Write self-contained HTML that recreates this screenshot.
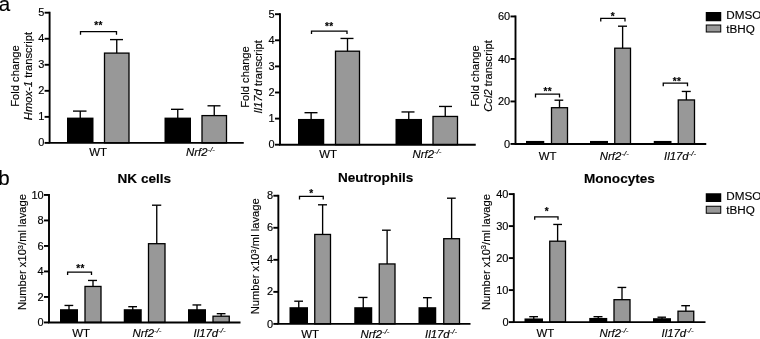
<!DOCTYPE html><html><head><meta charset="utf-8"><style>html,body{margin:0;padding:0;background:#fff}svg{display:block;will-change:transform}text{font-family:"Liberation Sans",sans-serif;fill:#000;stroke:#000;stroke-width:0.15px}</style></head><body>
<svg width="760" height="339" viewBox="0 0 760 339">
<rect width="760" height="339" fill="#fff"/>
<text x="-1.20" y="11.00" font-size="20.5" text-anchor="start" >a</text>
<text x="-1.70" y="185.00" font-size="20.5" text-anchor="start" >b</text>
<line transform="translate(0.0,0.2)" x1="80.25" y1="110.90" x2="80.25" y2="118.40" stroke="#000" stroke-width="1.35"/>
<line transform="translate(0.0,0.2)" x1="73.00" y1="110.90" x2="86.50" y2="110.90" stroke="#000" stroke-width="1.35"/>
<rect transform="translate(0.0,0.2)" x="67.00" y="117.40" width="26.50" height="25.30" fill="#000"/>
<line transform="translate(0.0,0.2)" x1="116.75" y1="39.40" x2="116.75" y2="53.40" stroke="#000" stroke-width="1.35"/>
<line transform="translate(0.0,0.2)" x1="110.00" y1="39.40" x2="123.00" y2="39.40" stroke="#000" stroke-width="1.35"/>
<rect transform="translate(0.0,0.2)" x="104.50" y="52.90" width="24.50" height="89.80" fill="#989898" stroke="#000" stroke-width="1.3"/>
<line transform="translate(0.0,0.2)" x1="177.75" y1="109.10" x2="177.75" y2="118.40" stroke="#000" stroke-width="1.35"/>
<line transform="translate(0.0,0.2)" x1="171.00" y1="109.10" x2="183.50" y2="109.10" stroke="#000" stroke-width="1.35"/>
<rect transform="translate(0.0,0.2)" x="164.50" y="117.40" width="26.50" height="25.30" fill="#000"/>
<line transform="translate(0.0,0.2)" x1="214.25" y1="105.60" x2="214.25" y2="115.90" stroke="#000" stroke-width="1.35"/>
<line transform="translate(0.0,0.2)" x1="207.50" y1="105.60" x2="220.50" y2="105.60" stroke="#000" stroke-width="1.35"/>
<rect transform="translate(0.0,0.2)" x="202.00" y="115.40" width="24.50" height="27.30" fill="#989898" stroke="#000" stroke-width="1.3"/>
<line transform="translate(0.0,0.2)" x1="49.60" y1="11.55" x2="49.60" y2="142.70" stroke="#000" stroke-width="1.9"/>
<line transform="translate(0.0,0.2)" x1="48.65" y1="142.70" x2="243.75" y2="142.70" stroke="#000" stroke-width="1.9"/>
<line transform="translate(0.0,0.2)" x1="44.60" y1="142.70" x2="49.60" y2="142.70" stroke="#000" stroke-width="1.9"/>
<text x="44.30" y="146.00" font-size="11" text-anchor="end" >0</text>
<line transform="translate(0.0,0.2)" x1="44.60" y1="116.66" x2="49.60" y2="116.66" stroke="#000" stroke-width="1.9"/>
<text x="44.30" y="120.00" font-size="11" text-anchor="end" >1</text>
<line transform="translate(0.0,0.2)" x1="44.60" y1="90.62" x2="49.60" y2="90.62" stroke="#000" stroke-width="1.9"/>
<text x="44.30" y="94.00" font-size="11" text-anchor="end" >2</text>
<line transform="translate(0.0,0.2)" x1="44.60" y1="64.58" x2="49.60" y2="64.58" stroke="#000" stroke-width="1.9"/>
<text x="44.30" y="68.00" font-size="11" text-anchor="end" >3</text>
<line transform="translate(0.0,0.2)" x1="44.60" y1="38.54" x2="49.60" y2="38.54" stroke="#000" stroke-width="1.9"/>
<text x="44.30" y="42.00" font-size="11" text-anchor="end" >4</text>
<line transform="translate(0.0,0.2)" x1="44.60" y1="12.50" x2="49.60" y2="12.50" stroke="#000" stroke-width="1.9"/>
<text x="44.30" y="16.00" font-size="11" text-anchor="end" >5</text>
<polyline transform="translate(0.0,0.2)" points="80.50,34.60 80.50,31.50 116.50,31.50 116.50,34.60" fill="none" stroke="#000" stroke-width="1.3"/>
<text x="98.50" y="28.50" font-size="10" text-anchor="middle" letter-spacing="0.4" font-weight="bold">**</text>
<text x="98.00" y="156.00" font-size="11.4" text-anchor="middle" >WT</text>
<text x="200.50" y="156.00" font-size="11.4" text-anchor="middle" ><tspan font-style="italic">Nrf2</tspan><tspan font-style="italic" font-size="7.8" dy="-3.6">-/-</tspan></text>
<text transform="translate(18.50,76.00) rotate(-90)" font-size="11.2" text-anchor="middle">Fold change</text>
<text transform="translate(31.50,76.00) rotate(-90)" font-size="11.2" text-anchor="middle"><tspan font-style="italic">Hmox-1</tspan> transcript</text>
<line transform="translate(0.0,0.2)" x1="311.12" y1="112.50" x2="311.12" y2="119.75" stroke="#000" stroke-width="1.35"/>
<line transform="translate(0.0,0.2)" x1="304.50" y1="112.50" x2="317.50" y2="112.50" stroke="#000" stroke-width="1.35"/>
<rect transform="translate(0.0,0.2)" x="298.00" y="118.75" width="26.25" height="25.75" fill="#000"/>
<line transform="translate(0.0,0.2)" x1="347.50" y1="38.25" x2="347.50" y2="51.50" stroke="#000" stroke-width="1.35"/>
<line transform="translate(0.0,0.2)" x1="340.50" y1="38.25" x2="353.50" y2="38.25" stroke="#000" stroke-width="1.35"/>
<rect transform="translate(0.0,0.2)" x="335.50" y="51.00" width="24.00" height="93.50" fill="#989898" stroke="#000" stroke-width="1.3"/>
<line transform="translate(0.0,0.2)" x1="408.75" y1="111.75" x2="408.75" y2="119.75" stroke="#000" stroke-width="1.35"/>
<line transform="translate(0.0,0.2)" x1="401.50" y1="111.75" x2="414.50" y2="111.75" stroke="#000" stroke-width="1.35"/>
<rect transform="translate(0.0,0.2)" x="395.50" y="118.75" width="26.50" height="25.75" fill="#000"/>
<line transform="translate(0.0,0.2)" x1="445.25" y1="106.25" x2="445.25" y2="116.75" stroke="#000" stroke-width="1.35"/>
<line transform="translate(0.0,0.2)" x1="439.00" y1="106.25" x2="452.00" y2="106.25" stroke="#000" stroke-width="1.35"/>
<rect transform="translate(0.0,0.2)" x="433.00" y="116.25" width="24.50" height="28.25" fill="#989898" stroke="#000" stroke-width="1.3"/>
<line transform="translate(0.0,0.2)" x1="280.00" y1="13.05" x2="280.00" y2="144.50" stroke="#000" stroke-width="1.9"/>
<line transform="translate(0.0,0.2)" x1="279.05" y1="144.50" x2="475.75" y2="144.50" stroke="#000" stroke-width="1.9"/>
<line transform="translate(0.0,0.2)" x1="275.00" y1="144.50" x2="280.00" y2="144.50" stroke="#000" stroke-width="1.9"/>
<text x="274.70" y="148.00" font-size="11" text-anchor="end" >0</text>
<line transform="translate(0.0,0.2)" x1="275.00" y1="118.40" x2="280.00" y2="118.40" stroke="#000" stroke-width="1.9"/>
<text x="274.70" y="122.00" font-size="11" text-anchor="end" >1</text>
<line transform="translate(0.0,0.2)" x1="275.00" y1="92.30" x2="280.00" y2="92.30" stroke="#000" stroke-width="1.9"/>
<text x="274.70" y="96.00" font-size="11" text-anchor="end" >2</text>
<line transform="translate(0.0,0.2)" x1="275.00" y1="66.20" x2="280.00" y2="66.20" stroke="#000" stroke-width="1.9"/>
<text x="274.70" y="70.00" font-size="11" text-anchor="end" >3</text>
<line transform="translate(0.0,0.2)" x1="275.00" y1="40.10" x2="280.00" y2="40.10" stroke="#000" stroke-width="1.9"/>
<text x="274.70" y="44.00" font-size="11" text-anchor="end" >4</text>
<line transform="translate(0.0,0.2)" x1="275.00" y1="14.00" x2="280.00" y2="14.00" stroke="#000" stroke-width="1.9"/>
<text x="274.70" y="18.00" font-size="11" text-anchor="end" >5</text>
<polyline transform="translate(0.0,0.2)" points="311.50,33.75 311.50,31.00 347.00,31.00 347.00,33.75" fill="none" stroke="#000" stroke-width="1.3"/>
<text x="329.25" y="29.50" font-size="10" text-anchor="middle" letter-spacing="0.4" font-weight="bold">**</text>
<text x="328.00" y="158.00" font-size="11.4" text-anchor="middle" >WT</text>
<text x="427.00" y="158.00" font-size="11.4" text-anchor="middle" ><tspan font-style="italic">Nrf2</tspan><tspan font-style="italic" font-size="7.8" dy="-3.6">-/-</tspan></text>
<text transform="translate(248.50,77.00) rotate(-90)" font-size="11.2" text-anchor="middle">Fold change</text>
<text transform="translate(262.00,76.80) rotate(-90)" font-size="11.2" text-anchor="middle"><tspan font-style="italic">Il17d</tspan> transcript</text>
<rect transform="translate(0.0,0.2)" x="526.00" y="140.75" width="18.25" height="3.00" fill="#000"/>
<line transform="translate(0.0,0.2)" x1="559.50" y1="100.00" x2="559.50" y2="108.00" stroke="#000" stroke-width="1.35"/>
<line transform="translate(0.0,0.2)" x1="554.50" y1="100.00" x2="563.25" y2="100.00" stroke="#000" stroke-width="1.35"/>
<rect transform="translate(0.0,0.2)" x="551.50" y="107.50" width="16.00" height="36.25" fill="#989898" stroke="#000" stroke-width="1.3"/>
<rect transform="translate(0.0,0.2)" x="590.00" y="140.75" width="18.00" height="3.00" fill="#000"/>
<line transform="translate(0.0,0.2)" x1="622.62" y1="26.00" x2="622.62" y2="48.50" stroke="#000" stroke-width="1.35"/>
<line transform="translate(0.0,0.2)" x1="618.00" y1="26.00" x2="627.00" y2="26.00" stroke="#000" stroke-width="1.35"/>
<rect transform="translate(0.0,0.2)" x="614.75" y="48.00" width="15.75" height="95.75" fill="#989898" stroke="#000" stroke-width="1.3"/>
<rect transform="translate(0.0,0.2)" x="653.75" y="140.75" width="17.75" height="3.00" fill="#000"/>
<line transform="translate(0.0,0.2)" x1="686.38" y1="91.25" x2="686.38" y2="100.25" stroke="#000" stroke-width="1.35"/>
<line transform="translate(0.0,0.2)" x1="681.75" y1="91.25" x2="690.75" y2="91.25" stroke="#000" stroke-width="1.35"/>
<rect transform="translate(0.0,0.2)" x="678.25" y="99.75" width="16.25" height="44.00" fill="#989898" stroke="#000" stroke-width="1.3"/>
<line transform="translate(0.0,0.2)" x1="515.50" y1="15.30" x2="515.50" y2="143.75" stroke="#000" stroke-width="1.9"/>
<line transform="translate(0.0,0.2)" x1="514.55" y1="143.75" x2="706.25" y2="143.75" stroke="#000" stroke-width="1.9"/>
<line transform="translate(0.0,0.2)" x1="510.50" y1="143.75" x2="515.50" y2="143.75" stroke="#000" stroke-width="1.9"/>
<text x="510.20" y="148.00" font-size="11" text-anchor="end" >0</text>
<line transform="translate(0.0,0.2)" x1="510.50" y1="101.25" x2="515.50" y2="101.25" stroke="#000" stroke-width="1.9"/>
<text x="510.20" y="105.00" font-size="11" text-anchor="end" >20</text>
<line transform="translate(0.0,0.2)" x1="510.50" y1="58.75" x2="515.50" y2="58.75" stroke="#000" stroke-width="1.9"/>
<text x="510.20" y="63.00" font-size="11" text-anchor="end" >40</text>
<line transform="translate(0.0,0.2)" x1="510.50" y1="16.25" x2="515.50" y2="16.25" stroke="#000" stroke-width="1.9"/>
<text x="510.20" y="20.00" font-size="11" text-anchor="end" >60</text>
<polyline transform="translate(0.0,0.2)" points="535.50,97.20 535.50,94.00 559.50,94.00 559.50,97.20" fill="none" stroke="#000" stroke-width="1.3"/>
<text x="547.75" y="94.50" font-size="10" text-anchor="middle" letter-spacing="0.4" font-weight="bold">**</text>
<polyline transform="translate(0.0,0.2)" points="600.75,21.25 600.75,18.25 625.00,18.25 625.00,21.25" fill="none" stroke="#000" stroke-width="1.3"/>
<text x="612.88" y="20.00" font-size="10" text-anchor="middle" letter-spacing="0.4" font-weight="bold">*</text>
<polyline transform="translate(0.0,0.2)" points="663.25,86.00 663.25,83.00 687.50,83.00 687.50,86.00" fill="none" stroke="#000" stroke-width="1.3"/>
<text x="677.00" y="85.00" font-size="10" text-anchor="middle" letter-spacing="0.4" font-weight="bold">**</text>
<text x="547.50" y="160.00" font-size="11.4" text-anchor="middle" >WT</text>
<text x="614.30" y="160.00" font-size="11.4" text-anchor="middle" ><tspan font-style="italic">Nrf2</tspan><tspan font-style="italic" font-size="7.8" dy="-3.6">-/-</tspan></text>
<text x="680.00" y="160.00" font-size="11.4" text-anchor="middle" ><tspan font-style="italic">Il17d</tspan><tspan font-style="italic" font-size="7.8" dy="-3.6">-/-</tspan></text>
<text transform="translate(478.50,76.00) rotate(-90)" font-size="11.2" text-anchor="middle">Fold change</text>
<text transform="translate(491.50,76.00) rotate(-90)" font-size="11.2" text-anchor="middle"><tspan font-style="italic">Ccl2</tspan> transcript</text>
<line transform="translate(0.0,0.2)" x1="69.00" y1="305.25" x2="69.00" y2="310.00" stroke="#000" stroke-width="1.35"/>
<line transform="translate(0.0,0.2)" x1="64.50" y1="305.25" x2="73.25" y2="305.25" stroke="#000" stroke-width="1.35"/>
<rect transform="translate(0.0,0.2)" x="60.00" y="309.00" width="18.00" height="13.25" fill="#000"/>
<line transform="translate(0.0,0.2)" x1="93.00" y1="280.25" x2="93.00" y2="286.75" stroke="#000" stroke-width="1.35"/>
<line transform="translate(0.0,0.2)" x1="88.00" y1="280.25" x2="97.00" y2="280.25" stroke="#000" stroke-width="1.35"/>
<rect transform="translate(0.0,0.2)" x="85.00" y="286.25" width="16.00" height="36.00" fill="#989898" stroke="#000" stroke-width="1.3"/>
<line transform="translate(0.0,0.2)" x1="132.75" y1="306.50" x2="132.75" y2="310.00" stroke="#000" stroke-width="1.35"/>
<line transform="translate(0.0,0.2)" x1="128.25" y1="306.50" x2="137.00" y2="306.50" stroke="#000" stroke-width="1.35"/>
<rect transform="translate(0.0,0.2)" x="123.75" y="309.00" width="18.00" height="13.25" fill="#000"/>
<line transform="translate(0.0,0.2)" x1="156.75" y1="205.00" x2="156.75" y2="244.00" stroke="#000" stroke-width="1.35"/>
<line transform="translate(0.0,0.2)" x1="152.00" y1="205.00" x2="161.25" y2="205.00" stroke="#000" stroke-width="1.35"/>
<rect transform="translate(0.0,0.2)" x="148.50" y="243.50" width="16.50" height="78.75" fill="#989898" stroke="#000" stroke-width="1.3"/>
<line transform="translate(0.0,0.2)" x1="197.00" y1="304.75" x2="197.00" y2="310.00" stroke="#000" stroke-width="1.35"/>
<line transform="translate(0.0,0.2)" x1="192.50" y1="304.75" x2="201.25" y2="304.75" stroke="#000" stroke-width="1.35"/>
<rect transform="translate(0.0,0.2)" x="188.00" y="309.00" width="18.00" height="13.25" fill="#000"/>
<line transform="translate(0.0,0.2)" x1="221.12" y1="313.50" x2="221.12" y2="316.50" stroke="#000" stroke-width="1.35"/>
<line transform="translate(0.0,0.2)" x1="216.75" y1="313.50" x2="225.50" y2="313.50" stroke="#000" stroke-width="1.35"/>
<rect transform="translate(0.0,0.2)" x="213.00" y="316.00" width="16.25" height="6.25" fill="#989898" stroke="#000" stroke-width="1.3"/>
<line transform="translate(0.0,0.2)" x1="49.00" y1="193.80" x2="49.00" y2="322.25" stroke="#000" stroke-width="1.9"/>
<line transform="translate(0.0,0.2)" x1="48.05" y1="322.25" x2="240.50" y2="322.25" stroke="#000" stroke-width="1.9"/>
<line transform="translate(0.0,0.2)" x1="44.00" y1="322.25" x2="49.00" y2="322.25" stroke="#000" stroke-width="1.9"/>
<text x="43.70" y="326.00" font-size="11" text-anchor="end" >0</text>
<line transform="translate(0.0,0.2)" x1="44.00" y1="296.75" x2="49.00" y2="296.75" stroke="#000" stroke-width="1.9"/>
<text x="43.70" y="301.00" font-size="11" text-anchor="end" >2</text>
<line transform="translate(0.0,0.2)" x1="44.00" y1="271.25" x2="49.00" y2="271.25" stroke="#000" stroke-width="1.9"/>
<text x="43.70" y="275.00" font-size="11" text-anchor="end" >4</text>
<line transform="translate(0.0,0.2)" x1="44.00" y1="245.75" x2="49.00" y2="245.75" stroke="#000" stroke-width="1.9"/>
<text x="43.70" y="250.00" font-size="11" text-anchor="end" >6</text>
<line transform="translate(0.0,0.2)" x1="44.00" y1="220.25" x2="49.00" y2="220.25" stroke="#000" stroke-width="1.9"/>
<text x="43.70" y="224.00" font-size="11" text-anchor="end" >8</text>
<line transform="translate(0.0,0.2)" x1="44.00" y1="194.75" x2="49.00" y2="194.75" stroke="#000" stroke-width="1.9"/>
<text x="43.70" y="199.00" font-size="11" text-anchor="end" >10</text>
<polyline transform="translate(0.0,0.2)" points="67.60,274.75 67.60,272.00 91.50,272.00 91.50,274.75" fill="none" stroke="#000" stroke-width="1.3"/>
<text x="80.50" y="272.00" font-size="10" text-anchor="middle" letter-spacing="0.4" font-weight="bold">**</text>
<text x="81.00" y="336.50" font-size="11.4" text-anchor="middle" >WT</text>
<text x="147.00" y="336.50" font-size="11.4" text-anchor="middle" ><tspan font-style="italic">Nrf2</tspan><tspan font-style="italic" font-size="7.8" dy="-3.6">-/-</tspan></text>
<text x="209.50" y="336.50" font-size="11.4" text-anchor="middle" ><tspan font-style="italic">Il17d</tspan><tspan font-style="italic" font-size="7.8" dy="-3.6">-/-</tspan></text>
<text transform="translate(26.00,252.00) rotate(-90)" font-size="11.2" text-anchor="middle">Number x10<tspan font-size="7.5" dy="-3.5">3</tspan><tspan dy="3.5">/ml lavage</tspan></text>
<text x="144.30" y="183.00" font-size="13.55" text-anchor="middle" font-weight="bold">NK cells</text>
<line transform="translate(0.0,0.2)" x1="298.75" y1="301.00" x2="298.75" y2="308.00" stroke="#000" stroke-width="1.35"/>
<line transform="translate(0.0,0.2)" x1="294.25" y1="301.00" x2="303.00" y2="301.00" stroke="#000" stroke-width="1.35"/>
<rect transform="translate(0.0,0.2)" x="289.50" y="307.00" width="18.50" height="16.70" fill="#000"/>
<line transform="translate(0.0,0.2)" x1="322.62" y1="204.60" x2="322.62" y2="234.75" stroke="#000" stroke-width="1.35"/>
<line transform="translate(0.0,0.2)" x1="318.00" y1="204.60" x2="327.00" y2="204.60" stroke="#000" stroke-width="1.35"/>
<rect transform="translate(0.0,0.2)" x="314.75" y="234.25" width="15.75" height="89.45" fill="#989898" stroke="#000" stroke-width="1.3"/>
<line transform="translate(0.0,0.2)" x1="363.25" y1="297.25" x2="363.25" y2="308.00" stroke="#000" stroke-width="1.35"/>
<line transform="translate(0.0,0.2)" x1="358.25" y1="297.25" x2="367.50" y2="297.25" stroke="#000" stroke-width="1.35"/>
<rect transform="translate(0.0,0.2)" x="354.25" y="307.00" width="18.00" height="16.70" fill="#000"/>
<line transform="translate(0.0,0.2)" x1="387.12" y1="230.00" x2="387.12" y2="264.25" stroke="#000" stroke-width="1.35"/>
<line transform="translate(0.0,0.2)" x1="382.00" y1="230.00" x2="390.75" y2="230.00" stroke="#000" stroke-width="1.35"/>
<rect transform="translate(0.0,0.2)" x="379.25" y="263.75" width="15.75" height="59.95" fill="#989898" stroke="#000" stroke-width="1.3"/>
<line transform="translate(0.0,0.2)" x1="427.38" y1="297.50" x2="427.38" y2="308.00" stroke="#000" stroke-width="1.35"/>
<line transform="translate(0.0,0.2)" x1="423.00" y1="297.50" x2="431.75" y2="297.50" stroke="#000" stroke-width="1.35"/>
<rect transform="translate(0.0,0.2)" x="418.50" y="307.00" width="17.75" height="16.70" fill="#000"/>
<line transform="translate(0.0,0.2)" x1="451.62" y1="198.00" x2="451.62" y2="239.00" stroke="#000" stroke-width="1.35"/>
<line transform="translate(0.0,0.2)" x1="447.00" y1="198.00" x2="455.75" y2="198.00" stroke="#000" stroke-width="1.35"/>
<rect transform="translate(0.0,0.2)" x="443.75" y="238.50" width="15.75" height="85.20" fill="#989898" stroke="#000" stroke-width="1.3"/>
<line transform="translate(0.0,0.2)" x1="278.35" y1="194.59" x2="278.35" y2="323.70" stroke="#000" stroke-width="1.9"/>
<line transform="translate(0.0,0.2)" x1="277.40" y1="323.70" x2="470.50" y2="323.70" stroke="#000" stroke-width="1.9"/>
<line transform="translate(0.0,0.2)" x1="273.35" y1="323.70" x2="278.35" y2="323.70" stroke="#000" stroke-width="1.9"/>
<text x="273.05" y="328.00" font-size="11" text-anchor="end" >0</text>
<line transform="translate(0.0,0.2)" x1="273.35" y1="291.66" x2="278.35" y2="291.66" stroke="#000" stroke-width="1.9"/>
<text x="273.05" y="295.00" font-size="11" text-anchor="end" >2</text>
<line transform="translate(0.0,0.2)" x1="273.35" y1="259.62" x2="278.35" y2="259.62" stroke="#000" stroke-width="1.9"/>
<text x="273.05" y="263.00" font-size="11" text-anchor="end" >4</text>
<line transform="translate(0.0,0.2)" x1="273.35" y1="227.58" x2="278.35" y2="227.58" stroke="#000" stroke-width="1.9"/>
<text x="273.05" y="231.00" font-size="11" text-anchor="end" >6</text>
<line transform="translate(0.0,0.2)" x1="273.35" y1="195.54" x2="278.35" y2="195.54" stroke="#000" stroke-width="1.9"/>
<text x="273.05" y="199.00" font-size="11" text-anchor="end" >8</text>
<polyline transform="translate(0.0,0.2)" points="299.50,199.25 299.50,196.25 323.25,196.25 323.25,199.25" fill="none" stroke="#000" stroke-width="1.3"/>
<text x="311.38" y="197.00" font-size="10" text-anchor="middle" letter-spacing="0.4" font-weight="bold">*</text>
<text x="310.00" y="338.00" font-size="11.4" text-anchor="middle" >WT</text>
<text x="375.00" y="338.00" font-size="11.4" text-anchor="middle" ><tspan font-style="italic">Nrf2</tspan><tspan font-style="italic" font-size="7.8" dy="-3.6">-/-</tspan></text>
<text x="441.00" y="338.00" font-size="11.4" text-anchor="middle" ><tspan font-style="italic">Il17d</tspan><tspan font-style="italic" font-size="7.8" dy="-3.6">-/-</tspan></text>
<text transform="translate(259.25,256.30) rotate(-90)" font-size="11.2" text-anchor="middle">Number x10<tspan font-size="7.5" dy="-3.5">3</tspan><tspan dy="3.5">/ml lavage</tspan></text>
<text x="375.60" y="182.00" font-size="13.55" text-anchor="middle" font-weight="bold">Neutrophils</text>
<line transform="translate(0.0,0.2)" x1="533.75" y1="316.50" x2="533.75" y2="319.25" stroke="#000" stroke-width="1.35"/>
<line transform="translate(0.0,0.2)" x1="529.25" y1="316.50" x2="538.00" y2="316.50" stroke="#000" stroke-width="1.35"/>
<rect transform="translate(0.0,0.2)" x="524.50" y="318.25" width="18.50" height="3.65" fill="#000"/>
<line transform="translate(0.0,0.2)" x1="557.62" y1="224.25" x2="557.62" y2="241.50" stroke="#000" stroke-width="1.35"/>
<line transform="translate(0.0,0.2)" x1="553.25" y1="224.25" x2="562.00" y2="224.25" stroke="#000" stroke-width="1.35"/>
<rect transform="translate(0.0,0.2)" x="549.75" y="241.00" width="15.75" height="80.90" fill="#989898" stroke="#000" stroke-width="1.3"/>
<line transform="translate(0.0,0.2)" x1="598.25" y1="316.50" x2="598.25" y2="318.75" stroke="#000" stroke-width="1.35"/>
<line transform="translate(0.0,0.2)" x1="593.50" y1="316.50" x2="602.50" y2="316.50" stroke="#000" stroke-width="1.35"/>
<rect transform="translate(0.0,0.2)" x="589.25" y="317.75" width="18.00" height="4.15" fill="#000"/>
<line transform="translate(0.0,0.2)" x1="622.00" y1="287.25" x2="622.00" y2="300.00" stroke="#000" stroke-width="1.35"/>
<line transform="translate(0.0,0.2)" x1="617.50" y1="287.25" x2="626.25" y2="287.25" stroke="#000" stroke-width="1.35"/>
<rect transform="translate(0.0,0.2)" x="614.00" y="299.50" width="16.00" height="22.40" fill="#989898" stroke="#000" stroke-width="1.3"/>
<line transform="translate(0.0,0.2)" x1="662.00" y1="317.00" x2="662.00" y2="319.00" stroke="#000" stroke-width="1.35"/>
<line transform="translate(0.0,0.2)" x1="657.50" y1="317.00" x2="666.00" y2="317.00" stroke="#000" stroke-width="1.35"/>
<rect transform="translate(0.0,0.2)" x="653.00" y="318.00" width="18.00" height="3.90" fill="#000"/>
<line transform="translate(0.0,0.2)" x1="685.88" y1="305.50" x2="685.88" y2="311.50" stroke="#000" stroke-width="1.35"/>
<line transform="translate(0.0,0.2)" x1="681.25" y1="305.50" x2="690.00" y2="305.50" stroke="#000" stroke-width="1.35"/>
<rect transform="translate(0.0,0.2)" x="678.00" y="311.00" width="15.75" height="10.90" fill="#989898" stroke="#000" stroke-width="1.3"/>
<line transform="translate(0.0,0.2)" x1="513.80" y1="192.95" x2="513.80" y2="321.90" stroke="#000" stroke-width="1.9"/>
<line transform="translate(0.0,0.2)" x1="512.85" y1="321.90" x2="705.50" y2="321.90" stroke="#000" stroke-width="1.9"/>
<line transform="translate(0.0,0.2)" x1="508.80" y1="321.90" x2="513.80" y2="321.90" stroke="#000" stroke-width="1.9"/>
<text x="508.50" y="326.00" font-size="11" text-anchor="end" >0</text>
<line transform="translate(0.0,0.2)" x1="508.80" y1="289.90" x2="513.80" y2="289.90" stroke="#000" stroke-width="1.9"/>
<text x="508.50" y="294.00" font-size="11" text-anchor="end" >10</text>
<line transform="translate(0.0,0.2)" x1="508.80" y1="257.90" x2="513.80" y2="257.90" stroke="#000" stroke-width="1.9"/>
<text x="508.50" y="262.00" font-size="11" text-anchor="end" >20</text>
<line transform="translate(0.0,0.2)" x1="508.80" y1="225.90" x2="513.80" y2="225.90" stroke="#000" stroke-width="1.9"/>
<text x="508.50" y="230.00" font-size="11" text-anchor="end" >30</text>
<line transform="translate(0.0,0.2)" x1="508.80" y1="193.90" x2="513.80" y2="193.90" stroke="#000" stroke-width="1.9"/>
<text x="508.50" y="198.00" font-size="11" text-anchor="end" >40</text>
<polyline transform="translate(0.0,0.2)" points="534.70,219.50 534.70,216.75 558.00,216.75 558.00,219.50" fill="none" stroke="#000" stroke-width="1.3"/>
<text x="547.00" y="215.00" font-size="10" text-anchor="middle" letter-spacing="0.4" font-weight="bold">*</text>
<text x="545.40" y="336.50" font-size="11.4" text-anchor="middle" >WT</text>
<text x="614.00" y="336.50" font-size="11.4" text-anchor="middle" ><tspan font-style="italic">Nrf2</tspan><tspan font-style="italic" font-size="7.8" dy="-3.6">-/-</tspan></text>
<text x="677.50" y="336.50" font-size="11.4" text-anchor="middle" ><tspan font-style="italic">Il17d</tspan><tspan font-style="italic" font-size="7.8" dy="-3.6">-/-</tspan></text>
<text transform="translate(489.75,252.00) rotate(-90)" font-size="11.2" text-anchor="middle">Number x10<tspan font-size="7.5" dy="-3.5">3</tspan><tspan dy="3.5">/ml lavage</tspan></text>
<text x="619.40" y="183.00" font-size="13.55" text-anchor="middle" font-weight="bold">Monocytes</text>
<rect x="705.75" y="12" width="15.5" height="9.25" fill="#000"/>
<rect x="706.25" y="25.0" width="14.5" height="7.0" fill="#989898" stroke="#000" stroke-width="1"/>
<text x="726.25" y="19.00" font-size="11.7" text-anchor="start" >DMSO</text>
<text x="726.25" y="32.50" font-size="11.7" text-anchor="start" >tBHQ</text>
<rect x="705.75" y="193.25" width="15.5" height="8.75" fill="#000"/>
<rect x="706.25" y="206.25" width="14.5" height="7.0" fill="#989898" stroke="#000" stroke-width="1"/>
<text x="726.25" y="200.00" font-size="11.7" text-anchor="start" >DMSO</text>
<text x="726.25" y="213.75" font-size="11.7" text-anchor="start" >tBHQ</text>
</svg></body></html>
